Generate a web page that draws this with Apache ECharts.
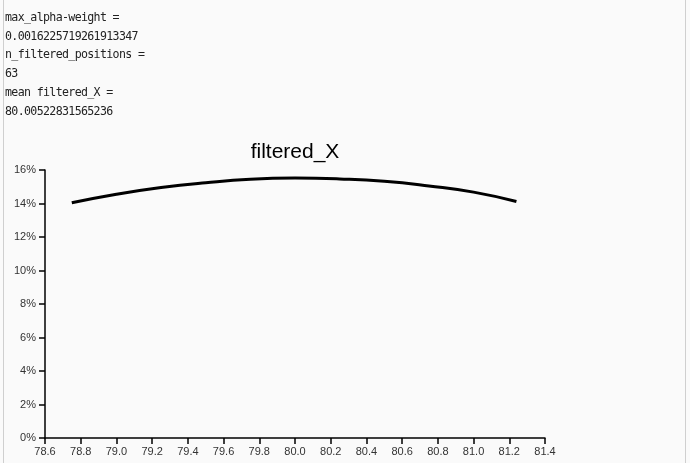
<!DOCTYPE html>
<html>
<head>
<meta charset="UTF-8">
<title>filtered_X</title>
<style>
  html, body { margin: 0; padding: 0; background: #fafafa; }
  #frame {
    position: absolute; left: 3px; top: 0; width: 681px; height: 463px;
    border-left: 1px solid #cfcfcf; border-right: 1px solid #cfcfcf;
  }
  #info {
    position: absolute; left: 1px; top: 8px; margin: 0;
    font-family: "DejaVu Sans Mono", monospace; font-size: 11.6px;
    letter-spacing: -0.65px;
    line-height: 18.7px; color: #222;
  }
  #myChart { position: absolute; left: 0; top: 0; width: 690px; height: 463px; }
</style>
<script src="https://cdn.jsdelivr.net/npm/echarts@6/dist/echarts.min.js"></script>
</head>
<body>
<div id="myChart"></div>
<div id="frame">
<pre id="info">max_alpha-weight =
0.0016225719261913347
n_filtered_positions =
63
mean filtered_X =
80.00522831565236</pre>
</div>
<script>
// values
var xValues = [78.75, 79.0, 79.25, 79.5, 79.75, 80.0, 80.25, 80.5, 80.75, 81.0, 81.24];
var yValues = [14.04, 14.55, 14.95, 15.24, 15.45, 15.52, 15.47, 15.33, 15.05, 14.68, 14.12];

var myChart = echarts.init(document.getElementById('myChart'));

var labelStyle = {
  fontFamily: 'Liberation Sans, Arial',
  fontSize: 11,
  color: '#333'
};

var option = {
  animation: false,
  backgroundColor: 'transparent',
  title: {
    text: 'filtered_X',
    left: 290,
    textAlign: 'center',
    top: 137,
    textStyle: {
      fontFamily: 'Liberation Sans, Arial',
      fontSize: 21,
      fontWeight: 'normal',
      color: '#000'
    }
  },
  grid: {
    left: 45,
    right: 145,
    top: 170,
    bottom: 25
  },
  xAxis: {
    type: 'value',
    min: 78.6,
    max: 81.4,
    interval: 0.2,
    axisLine: { show: true, onZero: false, lineStyle: { color: '#000', width: 1.5 } },
    axisTick: { show: true, length: 6, lineStyle: { color: '#000', width: 1.5 } },
    axisLabel: Object.assign({ margin: 8, formatter: function (v) { return v.toFixed(1); } }, labelStyle),
    splitLine: { show: false }
  },
  yAxis: {
    type: 'value',
    min: 0,
    max: 16,
    interval: 2,
    axisLine: { show: true, lineStyle: { color: '#000', width: 1.5 } },
    axisTick: { show: true, length: 6, lineStyle: { color: '#000', width: 1.5 } },
    axisLabel: Object.assign({ margin: 9, formatter: '{value}%' }, labelStyle),
    splitLine: { show: false }
  },
  series: [
    {
      type: 'line',
      smooth: true,
      showSymbol: false,
      data: xValues.map(function (x, i) { return [x, yValues[i]]; }),
      lineStyle: { color: '#000', width: 3 }
    }
  ]
};
myChart.setOption(option);
</script>
</body>
</html>
